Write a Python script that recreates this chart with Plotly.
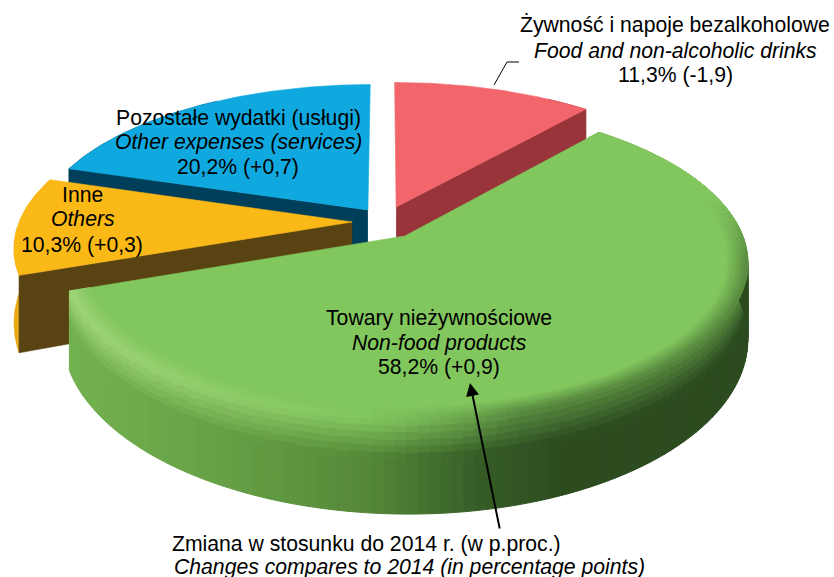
import numpy as np
import plotly.graph_objects as go

# ---------- data ----------
names_pl = ["Żywność i napoje bezalkoholowe", "Towary nieżywnościowe", "Inne", "Pozostałe wydatki (usługi)"]
names_en = ["Food and non-alcoholic drinks", "Non-food products", "Others", "Other expenses (services)"]
shares = [11.3, 58.2, 10.3, 20.2]
changes = ["-1,9", "+0,9", "+0,3", "+0,7"]
note_pl = "Zmiana w stosunku do 2014 r. (w p.proc.)"
note_en = "Changes compares to 2014 (in percentage points)"

# ---------- style / layout ----------
top_col = ["#f2666b", "#82c65e", "#fbb917", "#0fa9e0"]
wall_col = ["#99343a", "#2c4c20", "#5a4312", "#003f5a"]
outer_col = ["#99343a", "#2c4c20", "#e8a810", "#003f5a"]
offset = [(0.034, 0.102), (0.0585, -0.0925), (-0.0985, 0.0), (-0.052, 0.082)]
CX, CY, A, B, K = 385, 222, 333, 149, 0.16
CY2, B2 = 293, 167
FONT = "Liberation Sans"
FS = 21.2

fig = go.Figure()


def project(X, Y, low=False):
    den = 1 + K * Y
    sx = CX + A * X / den
    sy = (CY2 - B2 * Y / den) if low else (CY - B * Y / den)
    return sx, sy


def disc(theta, off, r=1.0):
    return r * np.sin(theta) + off[0], r * np.cos(theta) + off[1]


def poly(x, y, color, lw=0.6):
    fig.add_trace(go.Scatter(x=list(x), y=list(y), mode="lines", fill="toself", fillcolor=color,
                             line=dict(color=color, width=lw), hoverinfo="skip", showlegend=False))


def hex2rgb(h):
    return np.array([int(h[i:i + 2], 16) for i in (1, 3, 5)], float)


def mix(c1, c2, t):
    return c1 + (c2 - c1) * float(np.clip(t, 0, 1))


def to_css(c):
    c = np.round(np.asarray(c) / 2) * 2
    return "rgb(%d,%d,%d)" % tuple(np.clip(c, 0, 255))


side_stops_x = [60, 230, 370, 480, 560, 760]
side_stops = [hex2rgb(c) for c in ("#74b350", "#659f45", "#548838", "#355c26", "#2c4c20", "#2c4c20")]


def side_color(x):
    return np.array([np.interp(x, side_stops_x, [s[i] for s in side_stops]) for i in range(3)])


def flush(groups):
    for col, (xs, ys) in groups.items():
        poly(xs, ys, col, lw=1)


edges = np.cumsum([0] + shares) / sum(shares) * 2 * np.pi
top = hex2rgb(top_col[1])
light = hex2rgb("#a0d678")


def rim_color(x):
    if x < 370:
        return mix(light, top, (x - 70) / 300)
    return mix(top, mix(top, side_color(x), 0.5), (x - 370) / 150)


# wedge order: back to front
for i in [3, 0, 2, 1]:
    t0, t1 = edges[i], edges[i + 1]
    off = offset[i]
    th = np.linspace(t0, t1, 90)
    X, Y = disc(th, off)
    tx, ty = project(X, Y)
    bx, by = project(X, Y, low=True)
    ax, ay = project(off[0], off[1])
    ax2, ay2 = project(off[0], off[1], low=True)

    if i == 1:
        ths = np.linspace(t0, t1, 130)
        groups = {}

        def add(col, xs, ys):
            key = to_css(col)
            groups.setdefault(key, ([], []))
            groups[key][0].extend(list(xs) + [xs[0], None])
            groups[key][1].extend(list(ys) + [ys[0], None])

        # side: fades from the top-rim shade down into the wall shade
        n_t = 14
        for a, b in zip(ths[:-1], ths[1:]):
            xa, ya = disc(a, off)
            xb, yb = disc(b, off)
            p0x, p0y = project(xa, ya)
            p1x, p1y = project(xb, yb)
            _, q0y = project(xa, ya, low=True)
            _, q1y = project(xb, yb, low=True)
            base = side_color((p0x + p1x) / 2)
            rim = rim_color((p0x + p1x) / 2)
            for j in range(n_t):
                f0, f1 = j / n_t, (j + 1) / n_t
                ys = [p0y + (q0y - p0y) * f0, p1y + (q1y - p1y) * f0,
                      p1y + (q1y - p1y) * f1, p0y + (q0y - p0y) * f1]
                add(mix(rim, base, ((f0 + f1) / 2) / 0.4), [p0x, p1x, p1x, p0x], ys)
        flush(groups)
        poly(list(tx) + [ax, tx[0]], list(ty) + [ay, ty[0]], top_col[1])

        # soft transition on the outer part of the top face
        groups = {}
        rs = np.linspace(0.94, 1.0, 9)
        for a, b in zip(ths[:-1], ths[1:]):
            w = float(np.clip((-np.cos((a + b) / 2) + 0.25) / 0.4, 0, 1))
            for r0, r1 in zip(rs[:-1], rs[1:]):
                p = [project(*disc(a, off, r0)), project(*disc(b, off, r0)),
                     project(*disc(b, off, r1)), project(*disc(a, off, r1))]
                sx = p[0][0]
                f = w * ((r0 + r1) / 2 - 0.94) / 0.06
                add(mix(top, rim_color(sx), f), [q[0] for q in p], [q[1] for q in p])
        flush(groups)
    else:
        # outer wall, only where the rim faces the viewer's side
        mask = np.cos(th) < 0.85
        if mask.sum() > 1:
            poly(list(tx[mask]) + list(bx[mask][::-1]), list(ty[mask]) + list(by[mask][::-1]), outer_col[i])
        # radial wall on the side facing the viewer
        k = -1 if i == 0 else 0
        poly([ax, tx[k], bx[k], ax2], [ay, ty[k], by[k], ay2], wall_col[i])
        poly(list(tx) + [ax, tx[0]], list(ty) + [ay, ty[0]], top_col[i])

# leader line and arrow
fig.add_shape(type="path", path="M 494 85 L 507 62 L 519 62", line=dict(color="black", width=1))


def pct(i):
    return f"{shares[i]:.1f}".replace(".", ",") + f"% ({changes[i]})"


def label(x, y, text, italic=False, anchor="center"):
    fig.add_annotation(x=x, y=y, text=f"<i>{text}</i>" if italic else text, showarrow=False,
                       xanchor=anchor, yanchor="middle",
                       font=dict(family=FONT, size=FS, color="black"))


label(675, 25, names_pl[0]); label(675, 50, names_en[0], True); label(675, 75, pct(0))
label(439, 318, names_pl[1]); label(439, 343, names_en[1], True); label(439, 367, pct(1))
label(82, 194, names_pl[2]); label(83, 218, names_en[2], True); label(82, 245, pct(2))
label(238, 118, names_pl[3]); label(238, 142, names_en[3], True); label(238, 167, pct(3))
label(170, 544, note_pl, anchor="left"); label(172, 567, note_en, True, anchor="left")

fig.add_annotation(x=470, y=383, ax=500, ay=530, xref="x", yref="y", axref="x", ayref="y", text="",
                   showarrow=True, arrowhead=2, arrowsize=1.3, arrowwidth=2, arrowcolor="black")

fig.update_layout(width=834, height=577, margin=dict(l=0, r=0, t=0, b=0), showlegend=False,
                  paper_bgcolor="white", plot_bgcolor="white", hovermode=False,
                  xaxis=dict(range=[0, 834], visible=False, fixedrange=True),
                  yaxis=dict(range=[577, 0], visible=False, fixedrange=True))

fig.write_html("out.html", config={"displayModeBar": False},
               post_script="document.body.style.margin='0';document.body.style.overflow='hidden';")
